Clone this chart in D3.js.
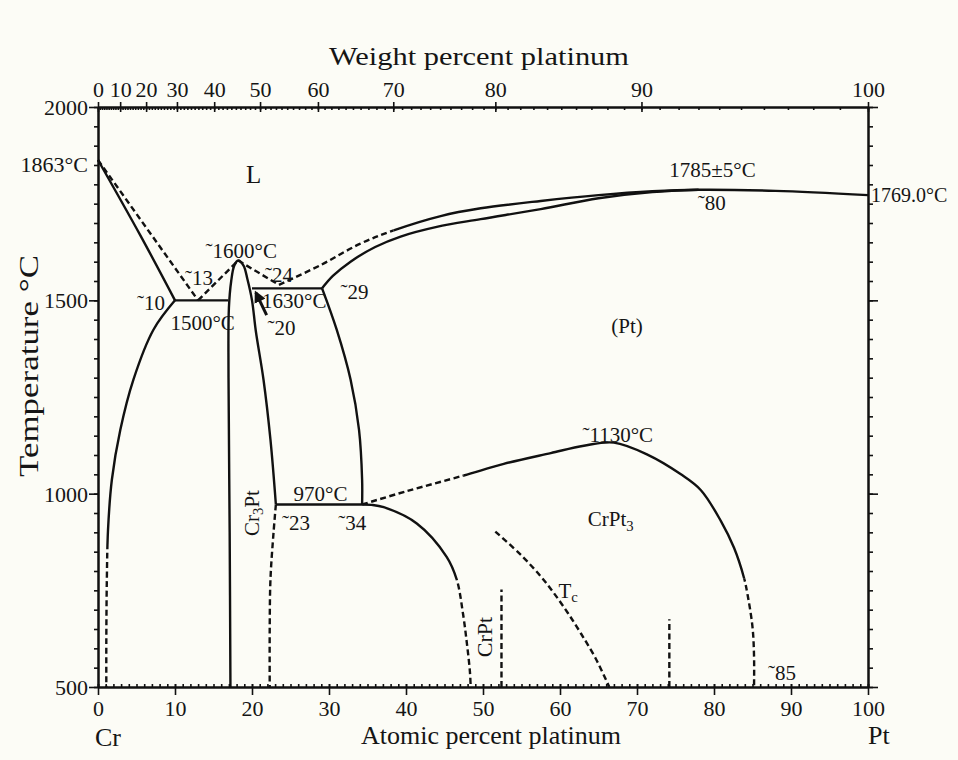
<!DOCTYPE html>
<html>
<head>
<meta charset="utf-8">
<script src="https://cdn.jsdelivr.net/npm/d3@7"></script>
<style>
body { margin: 0; background: #fcfcf6; }
svg text { font-family: "Liberation Serif", "Times New Roman", serif; fill: #151515; }
.curve { fill: none; stroke: #111; stroke-width: 2.4; stroke-linejoin: round; stroke-linecap: butt; }
.curve.dash { stroke-dasharray: 6, 3.5; }
.axis path { stroke: #111; stroke-width: 2; }
.axis line { stroke: #111; stroke-width: 1.6; }
.axis text { font-size: 22px; }
</style>
</head>
<body>
<div id="chart"></div>
<script>
// composition in atomic % Pt, temperature in deg C
var atomicTicks = [0, 10, 20, 30, 40, 50, 60, 70, 80, 90, 100];
var weightTicks = [0, 10, 20, 30, 40, 50, 60, 70, 80, 90, 100];
var tempTicks = [500, 1000, 1500, 2000];

// (Cr) side
var crSolidus = [[0, 1863], [5.5, 1668], [10, 1500]];
var crLiquidus = [[0, 1863], [13, 1500]];
var crSolvus = [[10, 1500], [7.2, 1424], [4.6, 1295], [2.9, 1165], [1.8, 1036], [1.3, 906], [1.15, 780], [1.08, 620], [1.08, 500]];
var eutectic1500 = [[10, 1500], [16.9, 1500]];

// Cr3Pt
var cr3Pt = [[17.2, 500], [17.1, 900], [16.95, 1300], [17.0, 1480], [17.3, 1550], [17.7, 1590], [18.2, 1603],
    [18.9, 1590], [19.4, 1555], [20.0, 1500], [20.5, 1420], [21.5, 1294], [22.4, 1139], [23.1, 972]];
var cr3PtRightLow = [[23.1, 972], [22.8, 900], [22.4, 780], [22.3, 650], [22.3, 500]];
var liqCr3PtLeft = [[13, 1500], [18.2, 1603]];
var liqCr3PtRight = [[18.2, 1603], [23.5, 1540]];
var peritectic = [[20.0, 1531], [29.1, 1531]];
var arrow20 = [[21.9, 1462], [20.5, 1520]];

// (Pt) liquidus / solidus / solvus
var ptLiquidus = [[23.5, 1540], [29, 1592], [34, 1646], [38.4, 1681], [44.5, 1718], [49.7, 1738], [57.5, 1757],
    [65, 1772], [72, 1782], [78, 1786], [88, 1783], [100, 1772]];
var ptSolidus = [[29.1, 1531], [30.5, 1563], [32.8, 1600], [36, 1638], [39.3, 1665], [44, 1690], [49.7, 1710],
    [57.5, 1736], [65, 1764], [72, 1780], [78, 1786]];
var ptSolvus = [[29.1, 1531], [31.0, 1424], [32.8, 1295], [33.9, 1165], [34.3, 1036], [34.3, 972]];
var eutectoid970 = [[23.1, 972], [34.3, 972]];

// CrPt3 ordering
var crPt3Top = [[34.3, 972], [40, 1006], [47.5, 1047], [52.7, 1077], [58.8, 1105], [63.1, 1124], [67, 1132],
    [71.35, 1101], [75.7, 1050], [78.3, 1009], [80.9, 929], [82.6, 860], [83.9, 782], [84.35, 740],
    [85.0, 655], [85.2, 580], [85.2, 500]];
var crPt3Left = [[34.3, 972], [35.5, 971], [37.1, 965], [41.4, 923], [45.3, 836], [46.6, 777], [47.4, 690],
    [47.9, 614], [48.3, 540], [48.4, 500]];
var crPtLine = [[52.4, 500], [52.4, 752]];
var line74 = [[74.2, 500], [74.2, 675]];
var curieLine = [[51.6, 902], [55, 840], [57.5, 786], [59.2, 743], [61, 692], [62.7, 639], [64.6, 575], [66.4, 500]];

// solid: the box (x0..x1 at%, t0..t1 degC) where the curve is drawn solid, dashed outside it
var curves = [
    {d: crSolidus}, {d: crLiquidus, dash: true},
    {d: crSolvus, solid: {x0: -10, x1: 110, t0: 870, t1: 3000}},
    {d: eutectic1500}, {d: cr3Pt}, {d: cr3PtRightLow, dash: true},
    {d: liqCr3PtLeft, dash: true}, {d: liqCr3PtRight, dash: true}, {d: peritectic},
    {d: ptLiquidus, solid: {x0: 38.4, x1: 110, t0: 0, t1: 3000}},
    {d: ptSolidus}, {d: ptSolvus}, {d: eutectoid970},
    {d: crPt3Top, solid: {x0: 47.5, x1: 110, t0: 781, t1: 3000}},
    {d: crPt3Left, solid: {x0: -10, x1: 110, t0: 779, t1: 3000}},
    {d: crPtLine, dash: true}, {d: line74, dash: true}, {d: curieLine, dash: true}
];

// annotations: text parts ([text, isSub]), anchored at (at%, T)
var labels = [
    {parts: [["L"]], at: 20.2, t: 1803, size: 25, anchor: "middle"},
    {parts: [["\u02DC1600°C"]], at: 18.6, t: 1609, anchor: "middle"},
    {parts: [["\u02DC13"]], at: 11.3, t: 1540},
    {parts: [["\u02DC24"]], at: 21.7, t: 1547},
    {parts: [["\u02DC29"]], at: 31.5, t: 1504},
    {parts: [["\u02DC10"]], at: 8.7, t: 1476, anchor: "end"},
    {parts: [["1500°C"]], at: 9.4, t: 1423},
    {parts: [["1630°C"]], at: 21.3, t: 1479},
    {parts: [["\u02DC20"]], at: 22.0, t: 1410},
    {parts: [["(Pt)"]], at: 68.7, t: 1416, anchor: "middle"},
    {parts: [["\u02DC1130°C"]], at: 67.5, t: 1134, anchor: "middle"},
    {parts: [["CrPt"], ["3", true]], at: 63.6, t: 916},
    {parts: [["970°C"]], at: 25.4, t: 981},
    {parts: [["\u02DC23"]], at: 23.9, t: 906},
    {parts: [["\u02DC34"]], at: 31.2, t: 906},
    {parts: [["Cr"], ["3", true], ["Pt"]], at: 20.9, t: 950, anchor: "middle", rotate: true},
    {parts: [["CrPt"]], at: 51.2, t: 629, size: 22, anchor: "middle", rotate: true},
    {parts: [["T"], ["c", true]], at: 59.8, t: 730},
    {parts: [["\u02DC85"]], at: 87.0, t: 518},
    {parts: [["1785±5°C"]], at: 79.8, t: 1819, anchor: "middle"},
    {parts: [["\u02DC80"]], at: 77.9, t: 1734},
    {parts: [["1769.0°C"]], at: 100.4, t: 1754, size: 20}
];

var margin = {top: 107, right: 91, bottom: 73, left: 98};
var width = 958, height = 760;

var svg = d3.select("#chart").append("svg")
    .attr("width", width)
    .attr("height", height);

svg.append("rect").attr("width", width).attr("height", height).attr("fill", "#fcfcf6");
var defs = svg.append("defs");

var x = d3.scaleLinear().domain([0, 100]).range([margin.left, width - margin.right + 1]);
var y = d3.scaleLinear().domain([500, 2000]).range([height - margin.bottom, margin.top]);

// weight % -> atomic % (Pt 195.08, Cr 52.00)
function wtToAt(w) {
    var pt = w / 195.08, cr = (100 - w) / 52.00;
    return 100 * pt / (pt + cr);
}
var wRange = d3.range(0, 101, 1);
var xWeight = d3.scaleLinear().domain(wRange).range(wRange.map(function (w) { return x(wtToAt(w)); }));

var xLo = x(0), xHi = x(100), yLo = y(500), yHi = y(2000);

// bottom axis
svg.append("g").attr("class", "axis").attr("transform", "translate(0," + yLo + ")")
    .call(d3.axisBottom(x).tickValues(d3.range(0, 101, 1)).tickSize(-3).tickSizeOuter(0).tickFormat(""));
var gBottom = svg.append("g").attr("class", "axis").attr("transform", "translate(0," + yLo + ")")
    .call(d3.axisBottom(x).tickValues(atomicTicks).tickSize(8).tickSizeOuter(0));
gBottom.selectAll(".tick line").attr("y1", -3);
gBottom.selectAll(".tick text").attr("y", 13).attr("dy", "0.71em");

// top axis (weight percent)
svg.append("g").attr("class", "axis").attr("transform", "translate(0," + yHi + ")")
    .call(d3.axisTop(xWeight).tickValues(wRange).tickSize(-3).tickSizeOuter(0).tickFormat(""));
var gTop = svg.append("g").attr("class", "axis").attr("transform", "translate(0," + yHi + ")")
    .call(d3.axisTop(xWeight).tickValues(weightTicks).tickSize(5).tickSizeOuter(0));
gTop.selectAll(".tick line").attr("y1", 5);
gTop.selectAll(".tick text").attr("y", -10).attr("dy", "0em");

// left axis
svg.append("g").attr("class", "axis").attr("transform", "translate(" + xLo + ",0)")
    .call(d3.axisLeft(y).tickValues(d3.range(500, 2001, 50)).tickSize(4).tickSizeOuter(0).tickFormat(""));
var gLeft = svg.append("g").attr("class", "axis").attr("transform", "translate(" + xLo + ",0)")
    .call(d3.axisLeft(y).tickValues(tempTicks).tickSize(9).tickSizeOuter(0).tickFormat(d3.format("d")));
gLeft.selectAll(".tick text").attr("x", -10).attr("dy", "0.34em");

// right axis
svg.append("g").attr("class", "axis").attr("transform", "translate(" + xHi + ",0)")
    .call(d3.axisRight(y).tickValues(d3.range(500, 2001, 50)).tickSize(5).tickSizeOuter(0).tickFormat(""));
svg.append("g").attr("class", "axis").attr("transform", "translate(" + xHi + ",0)")
    .call(d3.axisRight(y).tickValues(tempTicks).tickSize(10).tickSizeOuter(0).tickFormat(""));

// axis titles
svg.append("text").attr("x", 479).attr("y", 65).attr("text-anchor", "middle")
    .style("font-size", "25px").attr("textLength", 300).attr("lengthAdjust", "spacingAndGlyphs")
    .text("Weight percent platinum");
svg.append("text").attr("x", 491).attr("y", 744).attr("text-anchor", "middle")
    .style("font-size", "26px").text("Atomic percent platinum");
svg.append("text").attr("transform", "translate(38,366) rotate(-90)").attr("text-anchor", "middle")
    .style("font-size", "27px").attr("textLength", 222).attr("lengthAdjust", "spacingAndGlyphs")
    .text("Temperature °C");
svg.append("text").attr("x", 95).attr("y", 746).style("font-size", "26px").text("Cr");
svg.append("text").attr("x", 868).attr("y", 744).style("font-size", "26px").text("Pt");
svg.append("text").attr("x", xLo - 10).attr("y", y(1863)).attr("dy", "0.55em").attr("text-anchor", "end")
    .style("font-size", "22px").text("1863°C");

// phase boundaries
var line = d3.line()
    .x(function (d) { return x(d[0]); })
    .y(function (d) { return y(d[1]); })
    .curve(d3.curveCatmullRom.alpha(0.5));

function clipRects(id, rects) {
    var cp = defs.append("clipPath").attr("id", id);
    rects.forEach(function (r) {
        cp.append("rect").attr("x", r[0]).attr("y", r[1])
            .attr("width", Math.max(0, r[2])).attr("height", Math.max(0, r[3]));
    });
    return "url(#" + id + ")";
}

curves.forEach(function (c, i) {
    if (!c.solid) {
        svg.append("path").attr("class", c.dash ? "curve dash" : "curve").attr("d", line(c.d));
        return;
    }
    var bx0 = x(c.solid.x0), bx1 = x(c.solid.x1), by0 = y(c.solid.t1), by1 = y(c.solid.t0);
    var solidClip = clipRects("solid" + i, [[bx0, by0, bx1 - bx0, by1 - by0]]);
    var dashClip = clipRects("dash" + i, [
        [0, 0, bx0, height], [bx1, 0, width - bx1, height],
        [bx0, 0, bx1 - bx0, by0], [bx0, by1, bx1 - bx0, height - by1]
    ]);
    svg.append("path").attr("class", "curve").attr("clip-path", solidClip).attr("d", line(c.d));
    svg.append("path").attr("class", "curve dash").attr("clip-path", dashClip).attr("d", line(c.d));
});

defs.append("marker")
    .attr("id", "head").attr("viewBox", "0 0 10 10").attr("refX", 8).attr("refY", 5)
    .attr("markerWidth", 4).attr("markerHeight", 4).attr("orient", "auto")
    .append("path").attr("d", "M0,0L10,5L0,10z").attr("fill", "#111");
svg.append("path").attr("class", "curve").style("stroke-width", 3)
    .attr("marker-end", "url(#head)").attr("d", line(arrow20));

// labels
labels.forEach(function (l) {
    var px = x(l.at), py = y(l.t);
    var t = svg.append("text")
        .attr("text-anchor", l.anchor || "start")
        .style("font-size", (l.size || 21) + "px");
    if (l.rotate) {
        t.attr("transform", "translate(" + px + "," + py + ") rotate(-90)");
    } else {
        t.attr("x", px).attr("y", py);
    }
    l.parts.forEach(function (p) {
        var s = t.append("tspan").text(p[0]);
        if (p[1]) {
            s.attr("dy", "0.3em").style("font-size", "0.7em");
        } else if (t.selectAll("tspan").size() > 1) {
            s.attr("dy", "-0.21em");
        }
    });
});
</script>
</body>
</html>
